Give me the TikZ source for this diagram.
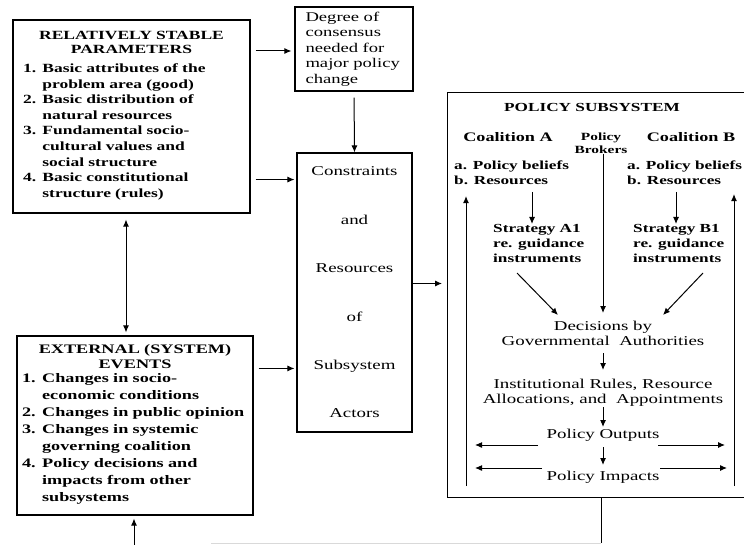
\documentclass[tikz,border=0pt]{standalone}
\usepackage{fontspec}
\setmainfont[FakeStretch=1.4]{Liberation Serif}
\usetikzlibrary{calc,positioning,arrows.meta}
\tikzset{
	frame/.style={draw,line width=1.1pt,inner sep=0pt},
	link/.style={line width=1pt,-{Latex[length=7pt,width=6pt]}},
	ptext/.style={inner sep=0pt,align=center,font=\fontsize{13.5}{15}\selectfont},
	pbold/.style={inner sep=0pt,align=left,font=\fontsize{12.3}{15}\selectfont\bfseries},
}

\begin{document}
\begin{tikzpicture}[x=1pt,y=-1pt]
	\clip (0,0) rectangle (744,545);
	% left column
	\node (stable) at (131.5,116.5) [frame,minimum width=237,minimum height=193,text width=217,font=\fontsize{12.5}{14}\selectfont\bfseries] {%
		\centering RELATIVELY STABLE\\PARAMETERS\par\vspace{7pt}\raggedright\noindent
		\fontsize{12.5}{15.6}\selectfont
		\begin{tabular}{@{}l@{ }l@{}}
			1. & Basic attributes of the\\
			   & problem area (good)\\
			2. & Basic distribution of\\
			   & natural resources\\
			3. & Fundamental socio-\\
			   & cultural values and\\
			   & social structure\\
			4. & Basic constitutional\\
			   & structure (rules)
		\end{tabular}\par\vspace{7pt}};
	\node (external) at (135,425.5) [frame,minimum width=236,minimum height=179,text width=226,font=\fontsize{13}{15}\selectfont\bfseries] {%
		\centering EXTERNAL (SYSTEM)\\EVENTS\par\vspace{1pt}\raggedright\noindent
		\fontsize{13}{17.1}\selectfont
		\begin{tabular}{@{}l@{ }l@{}}
			1. & Changes in socio-\\
			   & economic conditions\\
			2. & Changes in public opinion\\
			3. & Changes in systemic\\
			   & governing coalition\\
			4. & Policy decisions and\\
			   & impacts from other\\
			   & subsystems
		\end{tabular}};
	\draw[{Latex[length=7pt,width=6pt]}-{Latex[length=7pt,width=6pt]},line width=1pt,shorten <=6pt,shorten >=3pt] ($(stable.south)+(-5.5,0)$) coordinate (s2) -- (s2 |- external.north);
	
	% middle column
	\node (degree) at (354,49) [frame,minimum width=118,minimum height=84,text width=97,align=left,font=\fontsize{13.3}{15.5}\selectfont] {Degree of\\consensus\\needed for\\major policy\\change};
	\node (constraints) at (354.5,292.5) [frame,minimum width=115,minimum height=279,align=center,font=\fontsize{13.5}{48.4}\selectfont] {Constraints\\and\\Resources\\of\\Subsystem\\Actors};
	\draw[link,shorten <=5pt,shorten >=3pt] (stable.east |- degree.west) ++(0,2) coordinate (s1) -- (s1 -| degree.west);
	\draw[link,shorten <=6pt] (degree.south) -- (constraints.north);
	\draw[link,shorten <=5pt,shorten >=2pt] ($(stable.south east)+(0,-34)$) coordinate (s3) -- (s3 -| constraints.west);
	\draw[link,shorten <=5pt,shorten >=2pt] ($(external.north east)+(0,33)$) coordinate (e1) -- (e1 -| constraints.west);
	
	% policy subsystem
	\node (policy) at (447,92) [frame,anchor=north west,minimum width=313,minimum height=405] {};
	\draw[link,shorten >=5pt] ($(constraints.east)+(0,-9)$) coordinate (c1) -- (c1 -| policy.west);
	\node (title) at (592,107) [pbold] {POLICY SUBSYSTEM};
	\node (coalA) at (508,137) [pbold,font=\fontsize{13}{15}\selectfont\bfseries] {Coalition A};
	\node (coalB) at (691,137) [pbold,font=\fontsize{13}{15}\selectfont\bfseries] {Coalition B};
	\node (brokers) at (601,143) [inner sep=0pt,align=center,font=\fontsize{11}{13}\selectfont\bfseries] {Policy\\Brokers};
	\node (beliefsA) at (454,173) [pbold,anchor=west] {a. Policy beliefs\\b. Resources};
	\node (beliefsB) at (627,173) [pbold,anchor=west] {a. Policy beliefs\\b. Resources};
	\node (stratA) at (493,224) [pbold,anchor=north west] {Strategy A1\\re. guidance\\instruments};
	\node (stratB) at (633,224) [pbold,anchor=north west] {Strategy B1\\re. guidance\\instruments};
	\node (decisions) at (603,333) [ptext] {Decisions by\\Governmental~ Authorities};
	\node (rules) at (603,393) [ptext] {Institutional Rules, Resource\\Allocations, and~ Appointments};
	\node (outputs) at (603,435) [ptext] {Policy Outputs};
	\node (impacts) at (603,477) [ptext] {Policy Impacts};
	
	\draw[link] (532,192) coordinate (a1) -- (a1 |- stratA.north);
	\draw[link] (676,192) coordinate (b1) -- (b1 |- stratB.north);
	\draw[link] (brokers.south -| decisions) -- ($(decisions)+(0,-20)$);
	\draw[link] ($(stratA.north west)+(24,49)$) -- ($(decisions)+(-45,-18)$);
	\draw[link] ($(stratB.north west)+(70,49)$) -- ($(decisions)+(60,-18)$);
	\draw[link] ($(decisions)+(0,20)$) -- ($(rules)+(0,-23)$);
	\draw[link] ($(rules)+(0,14)$) -- ($(outputs)+(0,-8)$);
	\draw[link] ($(outputs)+(0,12)$) -- ($(impacts)+(0,-12)$);
	\draw[link] ($(outputs)+(-65,10)$) -- ++(-63,0);
	\draw[link] ($(outputs)+(55,10)$) -- ++(67,0);
	\draw[link] ($(impacts)+(-61,-9)$) -- ++(-67,0);
	\draw[link] ($(impacts)+(57,-9)$) -- ++(67,0);
	\draw[link] ($(policy.south west)+(19,-12)$) coordinate (pl) -- ++(0,-290);
	\draw[link] ($(policy.south west)+(287,-12)$) coordinate (pr) -- ++(0,-292);
	
	% feedback at the bottom
	\coordinate (fbend) at (211,543);
	\coordinate (fbin) at (134,545);
	\draw[line width=1pt] (policy.south -| brokers) coordinate (fb) -- (fb |- fbend);
	\draw[line width=1pt,black!15] (fb |- fbend) -- (fbend);
	\draw[link,shorten >=3pt] (fbin) -- (fbin |- external.south);
\end{tikzpicture}
\end{document}
